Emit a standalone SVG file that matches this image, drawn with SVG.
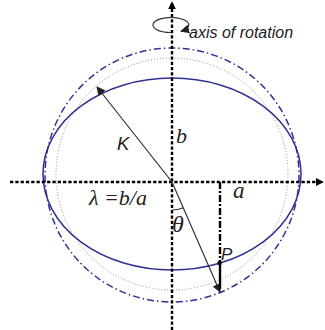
<svg xmlns="http://www.w3.org/2000/svg" width="325" height="330" viewBox="0 0 325 330">
<defs>
<style>
.axis{fill:none;stroke:#000;stroke-width:2.4;stroke-dasharray:3.3 2}
.ell{fill:none;stroke:#2e3192;stroke-width:1.5}
.dd{fill:none;stroke:#2e3192;stroke-width:1.5;stroke-dasharray:7 3 1.5 3}
.dot{fill:none;stroke:#8c8c8c;stroke-width:1;stroke-dasharray:1 2}
.thin{fill:none;stroke:#333;stroke-width:1.2}
.it{font-family:"Liberation Serif","Times New Roman","DejaVu Serif",serif;font-style:italic;fill:#222}
.sans{font-family:"Liberation Sans",Arial,sans-serif;font-style:italic;fill:#222}
</style>
<marker id="ah" viewBox="0 0 10 10" refX="9" refY="5" markerWidth="9" markerHeight="9" markerUnits="userSpaceOnUse" orient="auto-start-reverse">
<path d="M0,0 L10,5 L0,10 z" fill="#222"/>
</marker>
<marker id="ahb" viewBox="0 0 10 10" refX="9" refY="5" markerWidth="8" markerHeight="8" markerUnits="userSpaceOnUse" orient="auto">
<path d="M0,0 L10,5 L0,10 z" fill="#000"/>
</marker>
</defs>
<g id="shapes">
<circle id="outer-circle" class="dd" cx="172" cy="175" r="127"/>
<circle id="inner-circle" class="dot" cx="172" cy="174" r="116"/>
<ellipse id="ellipse" class="ell" cx="172" cy="174" rx="129" ry="96"/>
</g>
<g id="connectors">
<line class="axis" x1="10" y1="182" x2="323" y2="182" marker-end="url(#ahb)"/>
<line class="axis" x1="172" y1="330" x2="172" y2="2" marker-end="url(#ahb)"/>
<path class="thin" d="M171,32.5 A18,7.5 0 1 1 181,31.2" marker-end="url(#ah)"/>
<path class="thin" d="M97,87 L172,182 L220,292" marker-start="url(#ah)" marker-end="url(#ah)"/>
<path class="thin" d="M172,210 A28,28 0 0 0 183.2,207.7"/>
<line x1="220" y1="182" x2="220" y2="263" stroke="#000" stroke-width="2.4" stroke-dasharray="7 2 2 2"/>
<line x1="220" y1="263" x2="220" y2="289" stroke="#000" stroke-width="2.4"/>
<circle cx="219.5" cy="263" r="2.2" fill="#000"/>
</g>
<g id="labels">
<text class="sans" x="189" y="38" font-size="16">axis of rotation</text>
<text class="sans" x="117" y="150" font-size="18.5">K</text>
<text class="it" x="176" y="143" font-size="22">b</text>
<text class="it" x="233" y="198" font-size="23">a</text>
<text class="it" x="89" y="205" font-size="22">λ =b/a</text>
<text class="it" x="172" y="232" font-size="24">θ</text>
<text class="sans" x="221" y="260" font-size="17">P</text>
</g>
</svg>
